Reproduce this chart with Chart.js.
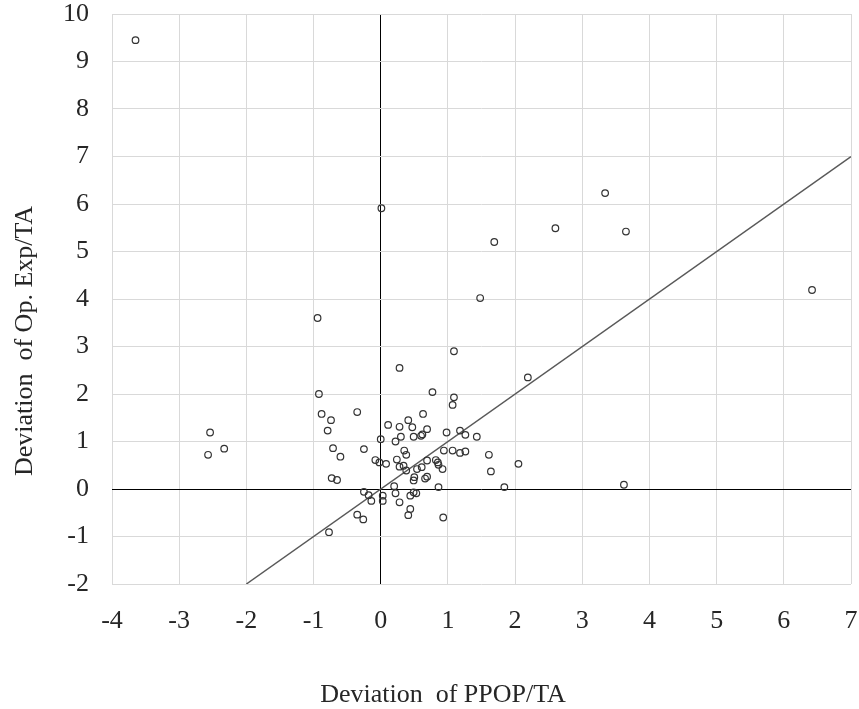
<!DOCTYPE html>
<html>
<head>
<meta charset="utf-8">
<script src="https://cdn.jsdelivr.net/npm/chart.js@4"></script>
<style>
  html, body { margin: 0; padding: 0; background: #fff; }
  #wrap { width: 859px; height: 709px; }
</style>
</head>
<body>
<div id="wrap"><canvas id="scatterChart"></canvas></div>
<script>
// deviation of PPOP/TA (x) vs deviation of Op. Exp/TA (y)
const ppopDev = [
  -3.65, 0.01, -0.94, 1.09, 1.48, 1.69, 2.60, 3.34, 3.65, 6.42, 3.62, -2.54, -2.57, -2.33,
  0.28, 2.19, -0.92, 0.77, 1.09, 1.07, -0.88, -0.74, -0.35, -0.79, 0.63, 0.11, 0.41, 0.28,
  0.47, 0.69, 0.30, 0.22, 0.49, 0.60, 0.62, 0.98, 1.18, 1.26, 1.43, 0.00, -0.71, -0.25,
  -0.60, 0.35, 0.38, 0.94, 1.07, 1.18, 1.26, 1.61, 2.05, 1.64, -0.08, -0.02, 0.08, 0.24,
  0.28, 0.34, 0.38, 0.54, 0.61, 0.69, 0.82, 0.85, 0.86, 0.92, 0.50, 0.49, 0.66, 0.69,
  -0.73, -0.65, 0.86, 1.84, 0.20, -0.25, -0.18, -0.14, 0.03, 0.03, 0.22, 0.28, 0.44, 0.53,
  0.49, 0.44, 0.41, 0.93, -0.35, -0.26, -0.77
];
const opExpDev = [
  9.45, 5.91, 3.60, 2.90, 4.02, 5.20, 5.49, 6.23, 5.42, 4.19, 0.09, 1.19, 0.72, 0.85,
  2.55, 2.35, 2.00, 2.04, 1.93, 1.77, 1.58, 1.45, 1.62, 1.23, 1.58, 1.35, 1.45, 1.31,
  1.30, 1.26, 1.10, 1.00, 1.10, 1.12, 1.15, 1.19, 1.23, 1.14, 1.10, 1.05, 0.86, 0.84,
  0.68, 0.81, 0.72, 0.81, 0.81, 0.76, 0.79, 0.72, 0.53, 0.37, 0.61, 0.56, 0.53, 0.62,
  0.47, 0.49, 0.39, 0.42, 0.46, 0.60, 0.61, 0.56, 0.51, 0.42, 0.25, 0.18, 0.22, 0.26,
  0.23, 0.19, 0.04, 0.04, 0.06, -0.06, -0.13, -0.25, -0.14, -0.25, -0.09, -0.28, -0.14, -0.09,
  -0.07, -0.42, -0.55, -0.60, -0.54, -0.64, -0.91
];
// 45-degree reference line
const refLineX = [-2, 7];
const refLineY = [-2, 7];

const xTicks = [-4, -3, -2, -1, 0, 1, 2, 3, 4, 5, 6, 7];
const yTicks = [-2, -1, 0, 1, 2, 3, 4, 5, 6, 7, 8, 9, 10];

const xTitle = "Deviation  of PPOP/TA";
const yTitle = "Deviation  of Op. Exp/TA";

const points = ppopDev.map((x, i) => ({ x, y: opExpDev[i] }));
const refLine = refLineX.map((x, i) => ({ x, y: refLineY[i] }));

const FONT = "'Liberation Serif', 'Times New Roman', serif";
const TEXT = "#262626";
Chart.defaults.font.family = FONT;
Chart.defaults.color = TEXT;

const gridColor = ctx => (ctx.tick && ctx.tick.value === 0) ? "#000" : "#d9d9d9";

// the axis titles in the original sit off-centre, so draw them by hand
const axisTitles = {
  id: "axisTitles",
  afterDraw(chart) {
    const c = chart.ctx;
    c.save();
    c.font = "26px " + FONT;
    c.fillStyle = TEXT;
    c.textAlign = "center";
    c.textBaseline = "alphabetic";
    c.fillText(xTitle, 443, 702);
    c.translate(32, 341);
    c.rotate(-Math.PI / 2);
    c.fillText(yTitle, 0, 0);
    c.restore();
  }
};

new Chart(document.getElementById("scatterChart"), {
  type: "scatter",
  data: {
    datasets: [
      {
        label: "Banks",
        data: points,
        pointStyle: "circle",
        pointRadius: 3.3,
        pointBorderWidth: 1.2,
        pointBorderColor: "#333",
        pointBackgroundColor: "rgba(255,255,255,0)",
        order: 1
      },
      {
        label: "45° line",
        type: "line",
        data: refLine,
        borderColor: "#595959",
        borderWidth: 1.5,
        pointRadius: 0,
        fill: false,
        order: 2
      }
    ]
  },
  options: {
    responsive: true,
    maintainAspectRatio: false,
    animation: false,
    layout: { padding: { top: 14, right: 8, left: 0, bottom: 0 } },
    plugins: {
      legend: { display: false },
      tooltip: { enabled: false }
    },
    scales: {
      x: {
        type: "linear",
        min: -4,
        max: 7,
        afterBuildTicks: axis => { axis.ticks = xTicks.map(v => ({ value: v })); },
        grid: { color: gridColor, lineWidth: 1, drawTicks: false },
        border: { display: false },
        ticks: { font: { size: 26 }, padding: 22, color: TEXT },
        afterFit: axis => {
          axis.height = 125;
          axis.paddingLeft = 0;
          axis.paddingRight = 0;
        }
      },
      y: {
        type: "linear",
        min: -2,
        max: 10,
        afterBuildTicks: axis => { axis.ticks = yTicks.map(v => ({ value: v })); },
        grid: { color: gridColor, lineWidth: 1, drawTicks: false },
        border: { display: false },
        ticks: { font: { size: 26 }, padding: 23, color: TEXT },
        afterFit: axis => {
          axis.width = 112;
          axis.paddingTop = 0;
          axis.paddingBottom = 0;
        }
      }
    }
  },
  plugins: [axisTitles]
});
</script>
</body>
</html>
